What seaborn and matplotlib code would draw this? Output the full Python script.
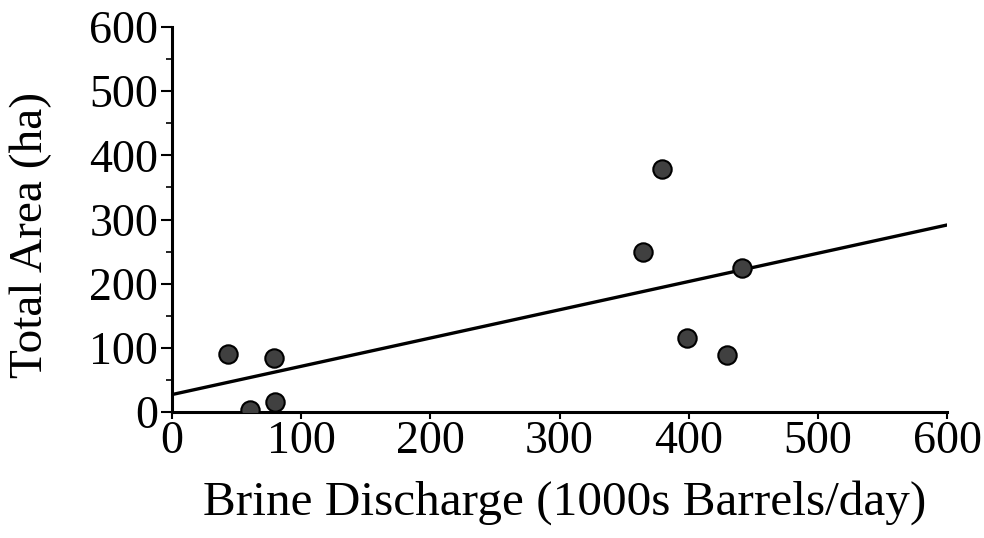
import numpy as np
import pandas as pd
import matplotlib
matplotlib.use('Agg')
import matplotlib.pyplot as plt
import seaborn as sns

# values
discharge = [43, 79, 60, 80, 365, 379, 441, 399, 430]
area = [90, 84, 3, 15, 249, 378, 224, 115, 89]
ticks = [0, 100, 200, 300, 400, 500, 600]

df = pd.DataFrame({'discharge': discharge, 'area': area})

sns.set_style('ticks')
plt.rcParams['font.family'] = ['Liberation Serif', 'DejaVu Serif']
plt.rcParams['text.color'] = 'black'
plt.rcParams['axes.labelcolor'] = 'black'
plt.rcParams['xtick.color'] = 'black'
plt.rcParams['ytick.color'] = 'black'

fig = plt.figure(figsize=(9.84, 5.38), dpi=100)
ax = fig.add_axes([0.1748, 0.2342, 0.7876, 0.7156])
ax.set_xlim(0, 600)
ax.set_ylim(0, 600)

sns.regplot(data=df, x='discharge', y='area', ax=ax, ci=None, truncate=False,
            scatter_kws={'s': 175, 'color': '#404040', 'edgecolor': 'black',
                         'linewidths': 1.5, 'alpha': 1, 'zorder': 3},
            line_kws={'color': 'black', 'lw': 2.4})

ax.set_xlim(0, 600)
ax.set_ylim(0, 600)
ax.set_xticks(ticks)
ax.set_yticks(ticks)
ax.set_yticks(np.arange(50, 600, 100), minor=True)
ax.tick_params(axis='both', labelsize=33, width=1.5)
ax.tick_params(axis='y', which='major', length=8, pad=2)
ax.tick_params(axis='y', which='minor', length=4, width=1.2)
ax.tick_params(axis='x', which='major', length=5, pad=1)

for s in ['top', 'right']:
    ax.spines[s].set_visible(False)
for s in ['left', 'bottom']:
    ax.spines[s].set_linewidth(2.2)
    ax.spines[s].set_color('black')

ax.set_xlabel('Brine Discharge (1000s Barrels/day)', fontsize=35.5, va='center')
ax.set_ylabel('Total Area (ha)', fontsize=34, va='center')
ax.xaxis.set_label_coords(0.507, -0.235)
ax.yaxis.set_label_coords(-0.182, 0.46)

fig.savefig('out.png', dpi=100)
